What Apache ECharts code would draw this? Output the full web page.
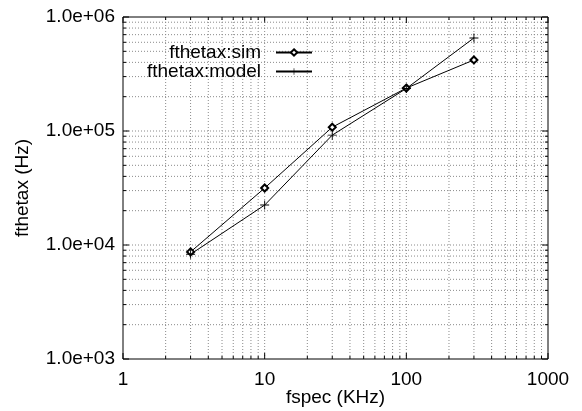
<!DOCTYPE html>
<html>
<head>
<meta charset="utf-8">
<script src="https://cdn.jsdelivr.net/npm/echarts@6/dist/echarts.min.js"></script>
<style>
  html, body { margin: 0; padding: 0; background: #fff; }
  #chart { width: 582px; height: 411px; }
</style>
</head>
<body>
<div id="chart"></div>
<script>
const fspec = [3, 10, 30, 100, 300];
const simValues = [8700, 31600, 108000, 238000, 420000];
const modelValues = [8300, 22400, 92000, 236000, 655000];

const xTickValues = [1, 10, 100, 1000];
const xTickLabels = ['1', '10', '100', '1000'];
const yTickValues = [1e3, 1e4, 1e5, 1e6];
const yTickLabels = ['1.0e+03', '1.0e+04', '1.0e+05', '1.0e+06'];

// grid positions: every integer multiple inside each decade
const xGridValues = [];
for (let d = 1; d < 1000; d *= 10) {
  for (let k = 1; k < 10; k++) xGridValues.push(k * d);
}
xGridValues.push(1000);
const yGridValues = [];
for (let d = 1e3; d < 1e6; d *= 10) {
  for (let k = 1; k < 10; k++) yGridValues.push(k * d);
}
yGridValues.push(1e6);

const X_MIN = 1, X_MAX = 1000, Y_MIN = 1e3, Y_MAX = 1e6;
const FONT = 'Liberation Sans, Arial, sans-serif';
const gridStyle = { stroke: '#8a8a8a', lineWidth: 1, lineDash: [1, 2] };
const tickStyle = { stroke: '#000', lineWidth: 1 };

function isMajor(v) {
  const l = Math.log10(v);
  return Math.abs(l - Math.round(l)) < 1e-9;
}

var myChart = echarts.init(document.getElementById('chart'), null, { renderer: 'canvas' });

myChart.setOption({
  animation: false,
  textStyle: { fontFamily: FONT },
  grid: {
    left: 123, top: 17, right: 34, bottom: 52,
    outerBoundsMode: 'none',
    containLabel: false,
    show: true, borderColor: '#000', borderWidth: 1, backgroundColor: 'transparent'
  },
  legend: {
    data: ['fthetax:sim', 'fthetax:model'],
    orient: 'vertical',
    align: 'right',
    right: 269,
    top: 43,
    padding: 0,
    itemGap: 0,
    itemWidth: 36,
    itemHeight: 8,
    itemStyle: { borderWidth: 1 },
    textStyle: { fontSize: 19, color: '#000', fontFamily: FONT, padding: [0, 10, 0, 0] }
  },
  xAxis: {
    type: 'log',
    logBase: 10,
    min: X_MIN,
    max: X_MAX,
    name: 'fspec (KHz)',
    nameLocation: 'middle',
    nameGap: 29,
    nameMoveOverlap: false,
    nameTextStyle: { fontSize: 19, color: '#000' },
    axisLine: { show: false },
    axisTick: { show: false },
    splitLine: { show: false },
    axisLabel: {
      fontSize: 19, color: '#000', margin: 11,
      formatter: v => xTickLabels[xTickValues.indexOf(Math.round(v))] || ''
    }
  },
  yAxis: {
    type: 'log',
    logBase: 10,
    min: Y_MIN,
    max: Y_MAX,
    name: 'fthetax (Hz)',
    nameLocation: 'middle',
    nameGap: 91,
    nameMoveOverlap: false,
    nameTextStyle: { fontSize: 19, color: '#000' },
    axisLine: { show: false },
    axisTick: { show: false },
    splitLine: { show: false },
    axisLabel: {
      fontSize: 19, color: '#000', margin: 8,
      formatter: v => yTickLabels[yTickValues.indexOf(Math.round(v))] || ''
    }
  },
  series: [
    {
      type: 'custom',
      silent: true,
      z: 1,
      clip: false,
      encode: { x: 0, y: 1 },
      data: xGridValues.map(v => [v, Y_MIN]),
      renderItem: (params, api) => {
        const v = api.value(0);
        const b = api.coord([v, Y_MIN]);
        const t = api.coord([v, Y_MAX]);
        const len = isMajor(v) ? 6 : 3;
        const children = [];
        if (v > X_MIN && v < X_MAX) {
          children.push({ type: 'line', shape: { x1: b[0], y1: b[1], x2: t[0], y2: t[1] }, style: gridStyle });
        }
        children.push({ type: 'line', shape: { x1: b[0], y1: b[1], x2: b[0], y2: b[1] - len }, style: tickStyle });
        children.push({ type: 'line', shape: { x1: t[0], y1: t[1], x2: t[0], y2: t[1] + len }, style: tickStyle });
        return { type: 'group', children: children };
      }
    },
    {
      type: 'custom',
      silent: true,
      z: 1,
      clip: false,
      encode: { x: 0, y: 1 },
      data: yGridValues.map(v => [X_MIN, v]),
      renderItem: (params, api) => {
        const v = api.value(1);
        const l = api.coord([X_MIN, v]);
        const r = api.coord([X_MAX, v]);
        const len = isMajor(v) ? 6 : 3;
        const children = [];
        if (v > Y_MIN && v < Y_MAX) {
          children.push({ type: 'line', shape: { x1: l[0], y1: l[1], x2: r[0], y2: r[1] }, style: gridStyle });
        }
        children.push({ type: 'line', shape: { x1: l[0], y1: l[1], x2: l[0] + len, y2: l[1] }, style: tickStyle });
        children.push({ type: 'line', shape: { x1: r[0], y1: r[1], x2: r[0] - len, y2: r[1] }, style: tickStyle });
        return { type: 'group', children: children };
      }
    },
    {
      name: 'fthetax:sim',
      type: 'line',
      z: 3,
      data: fspec.map((x, i) => [x, simValues[i]]),
      symbol: 'emptyDiamond',
      symbolSize: 7,
      lineStyle: { color: '#000', width: 1 },
      itemStyle: { color: '#000', borderColor: '#000', borderWidth: 1 }
    },
    {
      name: 'fthetax:model',
      type: 'line',
      z: 3,
      data: fspec.map((x, i) => [x, modelValues[i]]),
      symbol: 'path://M4.5,0h1v10h-1zM0,4.5h10v1h-10z',
      symbolSize: 9,
      lineStyle: { color: '#000', width: 1 },
      itemStyle: { color: '#000' }
    }
  ]
});
</script>
</body>
</html>
